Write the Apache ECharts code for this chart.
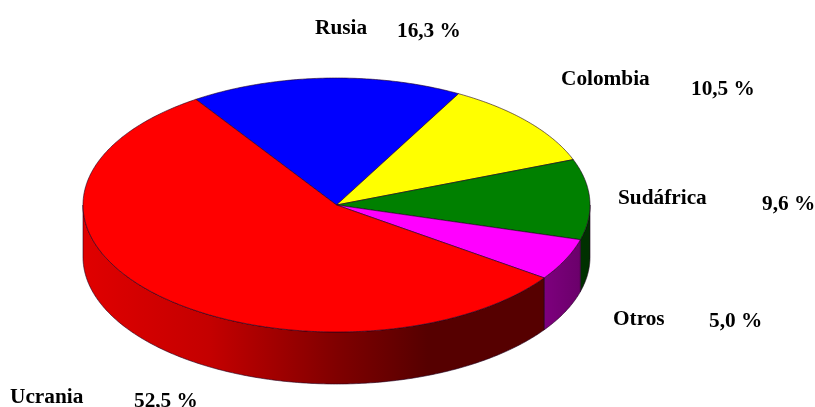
<!DOCTYPE html>
<html><head><meta charset="utf-8">
<style>html,body{margin:0;padding:0;background:#fff}#c{width:815px;height:407px}</style>
<script src="https://cdn.jsdelivr.net/npm/echarts@6/dist/echarts.min.js"></script>
</head><body><div id="c"></div>
<script>
const categories = ['Rusia','Colombia','Sudáfrica','Otros','Ucrania'];
const values = [16.3,10.5,9.6,5.0,52.5];
const topColors = ['#0000ff','#ffff00','#008000','#ff00ff','#ff0000'];

const CX=336.5, CY=205, RX=253.5, RY=127, DEPTH=52, START=123.7;
const total = values.reduce((a,b)=>a+b,0);
const FONT = 'bold 21.3px "Liberation Serif"';

function pt(t,dy){const r=t*Math.PI/180;return [CX+RX*Math.cos(r),CY-RY*Math.sin(r)+(dy||0)];}
function arc(a,b,dy){const n=Math.max(2,Math.ceil(Math.abs(a-b)*1.5));const o=[];for(let i=0;i<=n;i++)o.push(pt(a+(b-a)*i/n,dy));return o;}
function grad(stops){return {type:'linear',x:CX-RX,y:0,x2:CX+RX,y2:0,global:true,
  colorStops:stops.map(s=>({offset:s[0],color:s[1]}))};}
const sideFill = {
  '#ff0000':grad([[0,'#e00000'],[0.25,'#c40000'],[0.5,'#800000'],[0.68,'#560000'],[1,'#560000']]),
  '#ff00ff':grad([[0,'#800080'],[0.9,'#800080'],[1,'#660066']]),
  '#008000':grad([[0,'#004a00'],[1,'#003000']])
};
const EDGE='rgba(30,0,30,0.75)';

function renderSlice(params,api){
  const i=params.dataIndex, v=api.value(0);
  let before=0; for(let k=0;k<i;k++) before+=values[k];
  const a=START-before/total*360, b=a-v/total*360;
  const color=topColors[i];
  const children=[];
  const wa=Math.min(a,0), wb=Math.max(b,-180);
  if(wa>wb){
    children.push({type:'polygon',shape:{points:arc(wa,wb,0).concat(arc(wb,wa,DEPTH))},
      style:{fill:sideFill[color],stroke:EDGE,lineWidth:0.8},z2:1});
  }
  children.push({type:'polygon',shape:{points:[[CX,CY]].concat(arc(a,b,0))},
    style:{fill:color,stroke:EDGE,lineWidth:0.8},z2:2});
  return {type:'group',children};
}

const nameSpots=[[315,28],[561,79],[618,198],[613,319],[10,397]];
const pctSpots=[[397,31],[691,89],[762,204],[709,321],[134,401]];
const textEls=[];
categories.forEach((c,i)=>{
  textEls.push({type:'text',x:nameSpots[i][0],y:nameSpots[i][1],
    style:{text:c,font:FONT,fill:'#000',textVerticalAlign:'middle',verticalAlign:'middle'}});
  textEls.push({type:'text',x:pctSpots[i][0],y:pctSpots[i][1],
    style:{text:values[i].toFixed(1).replace('.',',')+' %',font:FONT,fill:'#000',textVerticalAlign:'middle',verticalAlign:'middle'}});
});

const chart=echarts.init(document.getElementById('c'),null,{renderer:'canvas'});
chart.setOption({
  animation:false,
  backgroundColor:'#fff',
  graphic:textEls,
  series:[{type:'custom',coordinateSystem:'none',silent:true,
    data:values.map(v=>[v]),renderItem:renderSlice,clip:false}]
});
</script></body></html>
